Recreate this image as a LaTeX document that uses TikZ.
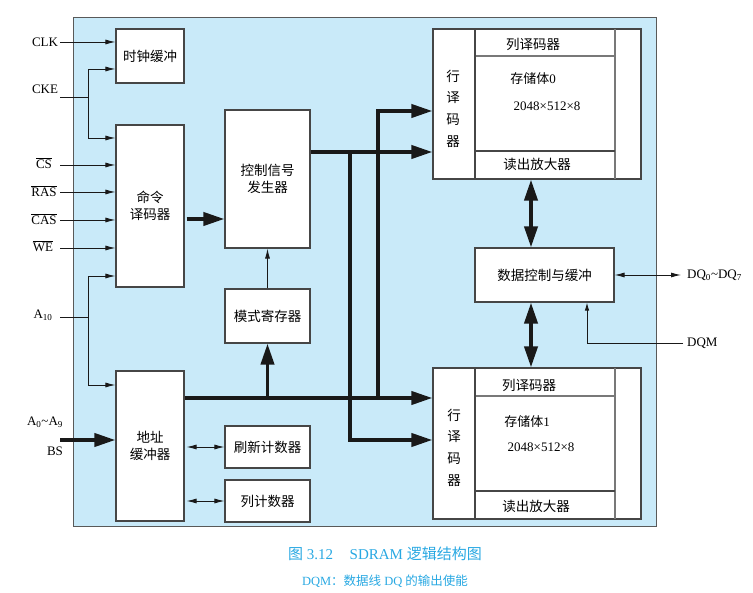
\documentclass[tikz,border=0pt]{standalone}
\usepackage{fontspec}
\setmainfont{Liberation Serif}
\newfontfamily\cjk{Noto Sans CJK SC}
\usetikzlibrary{arrows.meta,calc}
\definecolor{bgblue}{RGB}{201,234,249}
\definecolor{boxline}{RGB}{70,70,70}
\definecolor{gridline}{RGB}{120,120,120}
\definecolor{capblue}{RGB}{40,168,226}
\newcommand\zh[1]{{\cjk #1}}
\begin{document}
\begin{tikzpicture}[x=1pt,y=-1pt,font=\fontsize{13}{17}\selectfont,
  blk/.style={draw=boxline,line width=1.1pt,fill=white,inner sep=0pt,align=center},
  lbl/.style={inner sep=1pt},
  ln/.style={line width=0.9pt,black!90},
  arr/.style={ln,-{Latex[length=10pt,width=5pt]}},
  darr/.style={ln,{Latex[length=10pt,width=5pt]}-{Latex[length=10pt,width=5pt]}},
  bus/.style={line width=3.8pt,black!90},
  busarr/.style={bus,-{Triangle[length=21pt,width=13pt]}},
  dbus/.style={bus,{Triangle[length=21pt,width=13pt]}-{Triangle[length=21pt,width=13pt]}},
  zhf/.style={font=\fontsize{13.5}{17}\selectfont}]
\useasboundingbox (0,0) rectangle (753,593);
% background board
\draw[fill=bgblue,draw=boxline!90,line width=1pt] (73,18) rectangle (656,527);

% blocks
\node[blk,zhf,minimum width=68pt,minimum height=54pt] (clkbuf) at (150,56) {\zh{时钟缓冲}};
\node[blk,zhf,minimum width=68pt,minimum height=162pt] (cmd) at (150,206) {\zh{命令}\\\zh{译码器}};
\node[blk,zhf,minimum width=85pt,minimum height=138pt] (ctrl) at (267.5,179) {\zh{控制信号}\\\zh{发生器}};
\node[blk,zhf,minimum width=85pt,minimum height=54pt] (mode) at (267.5,316) {\zh{模式寄存器}};
\node[blk,zhf,minimum width=68pt,minimum height=150pt] (addr) at (150,446) {\zh{地址}\\\zh{缓冲器}};
\node[blk,zhf,minimum width=85pt,minimum height=42pt] (ref) at (267.5,447) {\zh{刷新计数器}};
\node[blk,zhf,minimum width=85pt,minimum height=42pt] (colc) at (267.5,501) {\zh{列计数器}};
\node[blk,minimum width=208pt,minimum height=150pt] (bank0) at (537,104) {};
\node[blk,minimum width=208pt,minimum height=151pt] (bank1) at (537,443.5) {};
\node[blk,zhf,minimum width=139pt,minimum height=54pt] (data) at (544.5,275) {\zh{数据控制与缓冲}};

% bank 0 interior
\draw[gridline,line width=1.1pt] (615,29) -- (615,179);
\draw[gridline,line width=1.1pt] (475,56) -- (615,56);
\draw[boxline,line width=1.1pt] (475,29) -- (475,179);
\draw[boxline,line width=1.1pt] (475,151) -- (615,151);
\node[lbl,zhf] (b0c) at (533,44) {\zh{列译码器}};
\node[lbl] (b0m) at (533,79) {\zh{存储体}0};
\node[lbl] (b0s) at (547,106) {2048×512×8};
\node[lbl,zhf] (b0r) at (537,164) {\zh{读出放大器}};
\node[lbl,zhf] (b0h1) at (453,76) {\zh{行}};
\node[lbl,zhf] (b0h2) at (453,98) {\zh{译}};
\node[lbl,zhf] (b0h3) at (453,120) {\zh{码}};
\node[lbl,zhf] (b0h4) at (453,142) {\zh{器}};

% bank 1 interior
\draw[gridline,line width=1.1pt] (615,368) -- (615,519);
\draw[gridline,line width=1.1pt] (475,396) -- (615,396);
\draw[boxline,line width=1.1pt] (475,368) -- (475,519);
\draw[boxline,line width=1.1pt] (475,491) -- (615,491);
\node[lbl,zhf] (b1c) at (529,385) {\zh{列译码器}};
\node[lbl] (b1m) at (527,422) {\zh{存储体}1};
\node[lbl] (b1s) at (541,447) {2048×512×8};
\node[lbl,zhf] (b1r) at (536,506) {\zh{读出放大器}};
\node[lbl,zhf] (b1h1) at (454,415) {\zh{行}};
\node[lbl,zhf] (b1h2) at (454,437) {\zh{译}};
\node[lbl,zhf] (b1h3) at (454,459) {\zh{码}};
\node[lbl,zhf] (b1h4) at (454,481) {\zh{器}};

% input labels
\node[lbl] (clk) at (45,42) {CLK};
\node[lbl] (cke) at (45,89) {CKE};
\node[lbl] (cs) at (44,163) {$\overline{\hbox{CS}}$};
\node[lbl] (ras) at (44,191) {$\overline{\hbox{RAS}}$};
\node[lbl] (cas) at (44,219) {$\overline{\hbox{CAS}}$};
\node[lbl] (we) at (43,246) {$\overline{\hbox{WE}}$};
\node[lbl] (a10) at (43,315) {A\textsubscript{10}};
\node[lbl] (a09) at (45,422) {A\textsubscript{0}\textasciitilde A\textsubscript{9}};
\node[lbl] (bs) at (55,451) {BS};
\node[lbl,anchor=west] (dq) at (686,275) {DQ\textsubscript{0}\textasciitilde DQ\textsubscript{7}};
\node[anchor=west,inner sep=4pt] (dqm) at (683,343) {DQM};

% input connector start points
\coordinate (clk0) at (60,42);
\coordinate (cke0) at (60,97);
\coordinate (ckeJ) at (88,97);
\coordinate (ckeT) at (88,69);
\coordinate (ckeB) at (88,138);
\coordinate (cs0) at (60,165);
\coordinate (ras0) at (60,192);
\coordinate (cas0) at (60,220);
\coordinate (we0) at (60,248);
\coordinate (a100) at (60,317);
\coordinate (a10J) at (88,317);
\coordinate (a10T) at (88,276);
\coordinate (a10B) at (88,385);
\coordinate (a090) at (60,440);

\draw[arr] (clk0) -- (clkbuf.west |- clk0);
\draw[ln] (cke0) -- (ckeJ);
\draw[arr] (ckeJ) -- (ckeT) -- (clkbuf.west |- ckeT);
\draw[arr] (ckeJ) -- (ckeB) -- (cmd.west |- ckeB);
\draw[arr] (cs0) -- (cmd.west |- cs0);
\draw[arr] (ras0) -- (cmd.west |- ras0);
\draw[arr] (cas0) -- (cmd.west |- cas0);
\draw[arr] (we0) -- (cmd.west |- we0);
\draw[ln] (a100) -- (a10J);
\draw[arr] (a10J) -- (a10T) -- (cmd.west |- a10T);
\draw[arr] (a10J) -- (a10B) -- (addr.west |- a10B);
\draw[busarr] (a090) -- (addr.west |- a090);

% internal buses
\coordinate (ycmd) at (0,219);
\coordinate (yc) at (0,152);
\coordinate (ya) at (0,398);
\coordinate (yb0) at (0,111);
\coordinate (yb1) at (0,440);
\coordinate (jx1) at (350,0);
\coordinate (jx2) at (378,0);
\coordinate (xd) at (531,0);
\coordinate (dqend) at (681,275);
\coordinate (dqmc) at (587,343);

\draw[busarr,shorten <=2pt] (cmd.east |- ycmd) -- (ctrl.west |- ycmd);
\draw[arr] (mode.north) -- (ctrl.south);
\draw[busarr] (ctrl.east |- yc) -- (bank0.west |- yc);
\draw[busarr] (jx1 |- yc) -- (jx1 |- yb1) -- (bank1.west |- yb1);
\draw[busarr] (addr.east |- ya) -- (bank1.west |- ya);
\draw[busarr] (jx2 |- ya) -- (jx2 |- yb0) -- (bank0.west |- yb0);
\draw[busarr] (mode.south |- ya) -- (mode.south);
\draw[darr,shorten <=2pt] (addr.east |- ref.west) -- (ref.west);
\draw[darr,shorten <=2pt] (addr.east |- colc.west) -- (colc.west);
\draw[dbus] (xd |- bank0.south) -- (xd |- data.north);
\draw[dbus] (xd |- data.south) -- (xd |- bank1.north);
\draw[darr] (data.east) -- (dqend);
\draw[ln,-{Latex[length=8pt,width=4.5pt]}] (dqm.west) -- (dqmc) -- (dqmc |- data.south);

% caption
\node[capblue,font=\fontsize{15}{18}\selectfont] (cap) at (385,554) {\zh{图} 3.12\hspace{1.1em}SDRAM \zh{逻辑结构图}};
\node[capblue,font=\fontsize{12.5}{15}\selectfont] (cap2) at (385,581) {DQM\zh{：数据线} DQ \zh{的输出使能}};
\end{tikzpicture}
\end{document}
